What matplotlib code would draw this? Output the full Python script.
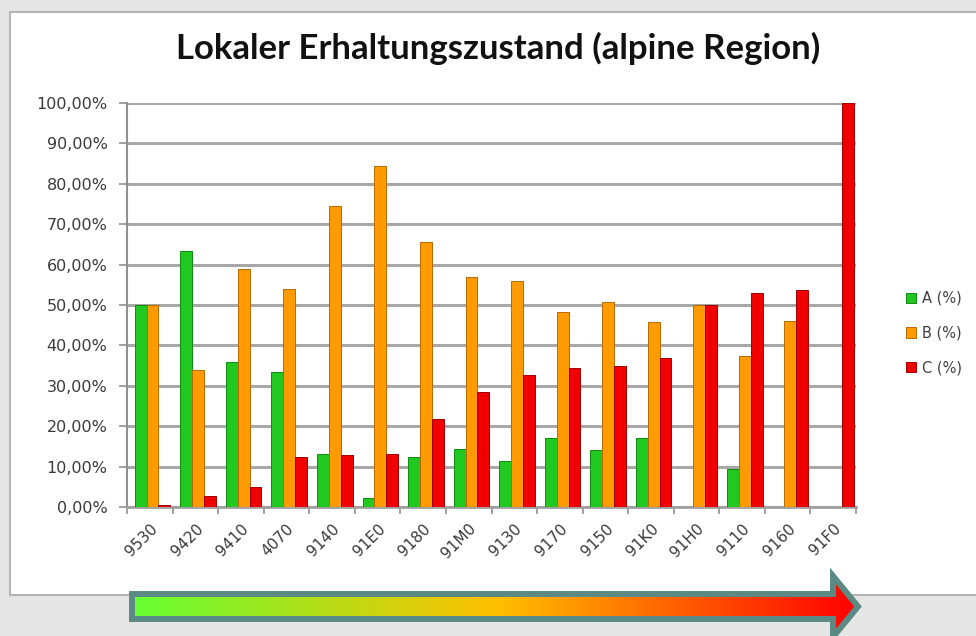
import matplotlib
matplotlib.use("Agg")
import matplotlib.pyplot as plt
import numpy as np
from matplotlib.patches import Rectangle, Polygon
from matplotlib.colors import LinearSegmentedColormap
from matplotlib.ticker import FuncFormatter

categories = ["9530", "9420", "9410", "4070", "9140", "91E0", "9180", "91M0",
              "9130", "9170", "9150", "91K0", "91H0", "9110", "9160", "91F0"]
a_vals = [50.0, 63.3, 36.0, 33.5, 13.0, 2.3, 12.5, 14.3, 11.4, 17.1, 14.0, 17.1, 0.0, 9.3, 0.0, 0.0]
b_vals = [50.0, 34.0, 59.0, 54.0, 74.5, 84.5, 65.5, 57.0, 56.0, 48.3, 50.8, 45.9, 50.0, 37.5, 46.1, 0.0]
c_vals = [0.5, 2.6, 5.0, 12.5, 12.8, 13.0, 21.8, 28.5, 32.7, 34.3, 35.0, 36.8, 50.0, 53.0, 53.8, 100.0]
series_names = ["A (%)", "B (%)", "C (%)"]
y_ticks = [0, 10, 20, 30, 40, 50, 60, 70, 80, 90, 100]

W, H = 976, 636
fig = plt.figure(figsize=(W / 100, H / 100), dpi=100, facecolor="#e6e6e6")

# white chart frame
fig.patches.append(Rectangle((10 / W, 1 - 595 / H), (W + 10) / W, (595 - 12) / H,
                             transform=fig.transFigure, facecolor="white",
                             edgecolor="#b4b4b4", linewidth=1.5, zorder=-5))

ax = fig.add_axes([127 / W, 1 - 507 / H, (856 - 127) / W, (507 - 103) / H])
ax.set_facecolor("none")
ax.set_zorder(1)

x = np.arange(len(categories))
bw = 0.26
colors = ["#20c820", "#ff9a00", "#f00000"]
edges = ["#0f8a0f", "#b86a00", "#a00000"]
for i, (vals, c, e, nm) in enumerate(zip([a_vals, b_vals, c_vals], colors, edges, series_names)):
    ax.bar(x + 0.06 + (i - 1) * bw, np.array(vals) / 100.0, width=bw, color=c,
           edgecolor=e, linewidth=0.7, label=nm, zorder=3)

ax.set_xlim(-0.5, len(categories) - 0.5)
ax.set_ylim(0, 1.0)
ax.set_yticks(np.array(y_ticks) / 100.0)
ax.yaxis.set_major_formatter(FuncFormatter(lambda v, p: f"{v*100:.2f}%".replace(".", ",")))
ax.grid(axis="y", color="#a8a8a8", linewidth=2.2, zorder=1)
ax.set_axisbelow(True)

ax.set_xticks(x)
ax.set_xticklabels(categories, rotation=45, ha="right", va="top", rotation_mode="anchor")
ax.set_xticks(np.arange(-0.5, len(categories)), minor=True)
ax.tick_params(axis="x", which="major", length=0, pad=10, labelsize=11, labelcolor="#3a3a3a")
ax.tick_params(axis="x", which="minor", length=5, color="#909090", width=1.2)
ax.tick_params(axis="y", length=6, color="#909090", width=1.2, labelsize=11.5,
               labelcolor="#3a3a3a", pad=8)
for s in ["top", "right"]:
    ax.spines[s].set_visible(False)
ax.spines["left"].set_color("#909090")
ax.spines["left"].set_linewidth(1.5)
ax.spines["bottom"].set_color("#a0a0a0")
ax.spines["bottom"].set_linewidth(2.0)

fig.text(498 / W, 1 - 48 / H, "Lokaler Erhaltungszustand (alpine Region)",
         ha="center", va="center", fontsize=25, fontweight="bold",
         family="Lato", color="#111111")

leg = ax.legend(loc="center left", bbox_to_anchor=(893 / W, 1 - 333 / H),
                bbox_transform=fig.transFigure, frameon=False, fontsize=10.5,
                handlelength=0.7, handleheight=0.7, handletextpad=0.4,
                labelspacing=1.35, labelcolor="#404040")

# gradient arrow in pixel coordinates
ov = fig.add_axes([0, 0, 1, 1], facecolor="none")
ov.set_zorder(2)
ov.set_xlim(0, W)
ov.set_ylim(H, 0)
ov.axis("off")
pts = [(132, 594), (833, 594), (833, 576), (858, 606.5), (833, 637),
       (833, 619), (132, 619)]
cmap = LinearSegmentedColormap.from_list("arr", [(0, "#66ff33"), (0.5, "#ffc000"), (1, "#ff0000")])
grad = np.linspace(0, 1, 512).reshape(1, -1)
im = ov.imshow(grad, cmap=cmap, extent=(132, 858, 637, 576), aspect="auto", zorder=5)
poly_clip = Polygon(pts, closed=True, transform=ov.transData, facecolor="none")
ov.add_patch(poly_clip)
im.set_clip_path(poly_clip)
ov.add_patch(Polygon(pts, closed=True, facecolor="none", edgecolor="#5b8a84",
                     linewidth=4.3, joinstyle="miter", zorder=6))
ov.set_xlim(0, W)
ov.set_ylim(H, 0)

fig.savefig("out.png", dpi=100, facecolor=fig.get_facecolor())
